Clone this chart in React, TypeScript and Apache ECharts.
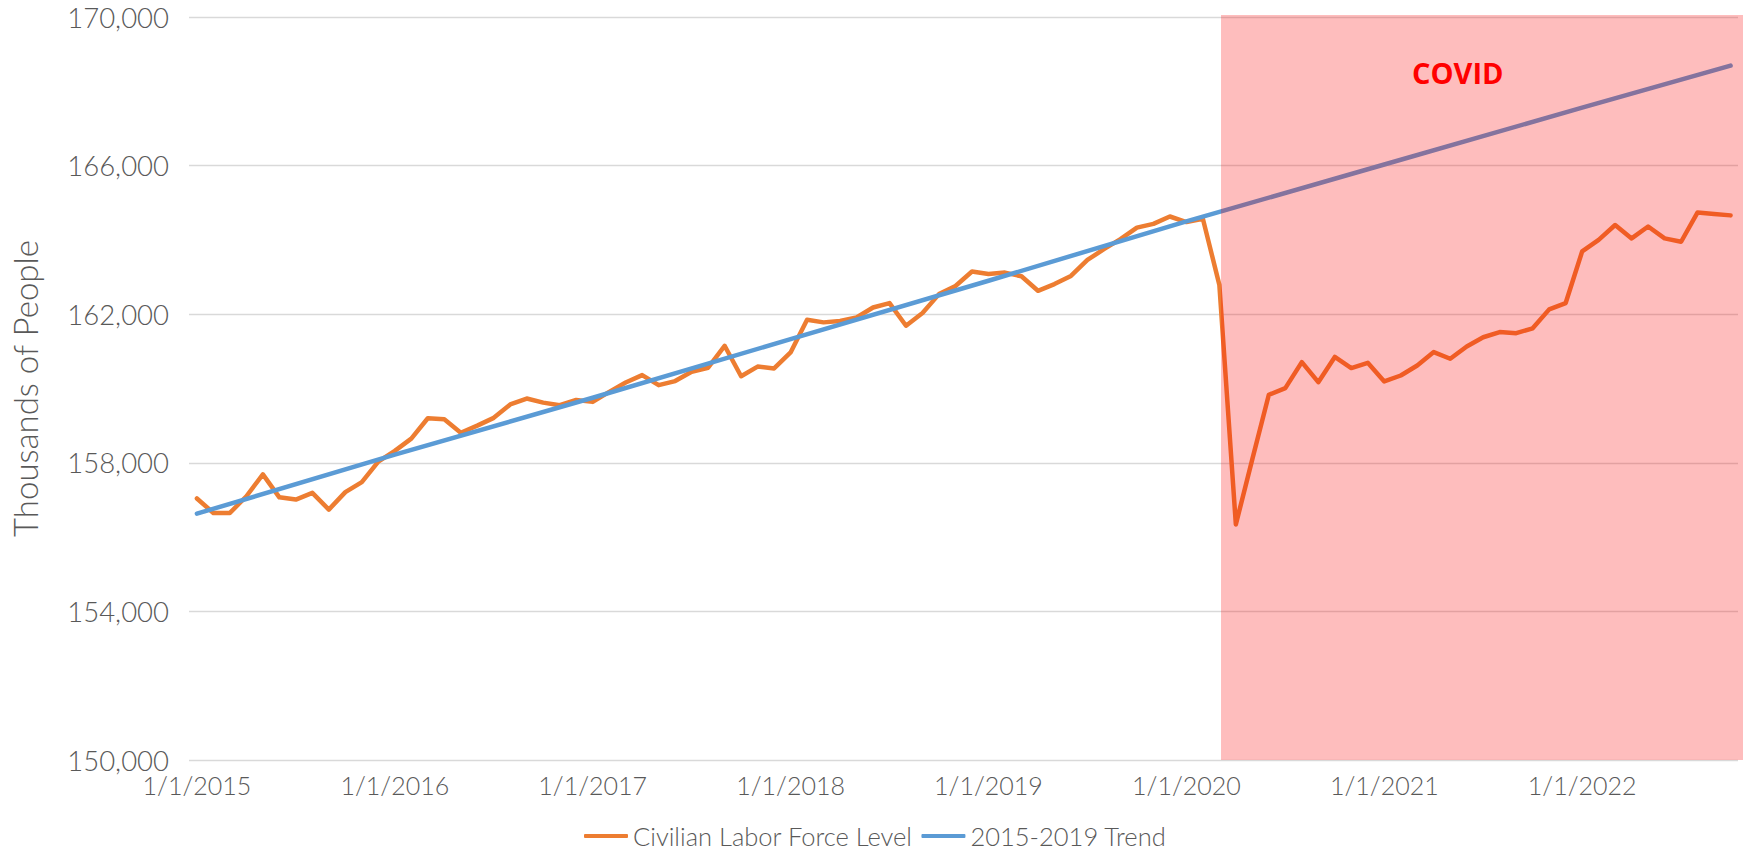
import React, { useEffect, useRef } from "react";
import * as echarts from "echarts";

// Civilian Labor Force Level (thousands), monthly
const years = [2015, 2016, 2017, 2018, 2019, 2020, 2021, 2022];
const laborForce2015 = [157040, 156650, 156650, 157100, 157690, 157070, 157010, 157190, 156740, 157210, 157480, 158030];
const laborForce2016 = [158320, 158650, 159200, 159170, 158810, 159000, 159210, 159570, 159730, 159620, 159550, 159690];
const laborForce2017 = [159640, 159910, 160160, 160360, 160090, 160200, 160450, 160560, 161150, 160330, 160590, 160540];
const laborForce2018 = [160970, 161850, 161780, 161820, 161910, 162180, 162300, 161690, 162030, 162540, 162760, 163150];
const laborForce2019 = [163080, 163120, 163020, 162630, 162810, 163030, 163460, 163750, 164020, 164330, 164430, 164630];
const laborForce2020 = [164480, 164570, 162790, 156340, 158100, 159830, 160010, 160710, 160170, 160850, 160550, 160690];
const laborForce2021 = [160190, 160350, 160620, 160980, 160800, 161130, 161380, 161520, 161490, 161620, 162130, 162300];
const laborForce2022 = [163690, 164000, 164400, 164040, 164360, 164040, 163950, 164740, 164700, 164660];
const laborForceByYear = [
  laborForce2015, laborForce2016, laborForce2017, laborForce2018,
  laborForce2019, laborForce2020, laborForce2021, laborForce2022,
];

// 2015-2019 trend line (thousands), read at each January and at the last month ([year, month])
const trendMonths: [number, number][] = [[2015, 1], [2016, 1], [2017, 1], [2018, 1], [2019, 1], [2020, 1], [2021, 1], [2022, 1], [2022, 10]];
const trendValues = [156630, 158220, 159750, 161330, 162900, 164500, 166030, 167560, 168690];

// Axis ticks: labelled years (shown as 1/1/YYYY)
const tickYears = [2015, 2016, 2017, 2018, 2019, 2020, 2021, 2022];
const yMin = 150000;
const yMax = 170000;
const yInterval = 4000;
// axis extent in months from Jan 2015
const axisStartMonth = -0.48;
const axisEndMonth = 93.45;
const covidStartMonth = 62.1; // early March 2020

const seriesNames = ["Civilian Labor Force Level", "2015-2019 Trend"];
const covidLabel = "COVID";

const monthIndex = (y: number, m: number) => (y - years[0]) * 12 + (m - 1);

export default function App() {
  const ref = useRef<HTMLDivElement>(null);

  useEffect(() => {
    document.body.style.margin = "0";
    const chart = echarts.init(ref.current!, null, { renderer: "svg" });

    const laborData: [number, number][] = [];
    laborForceByYear.forEach((vals, yi) => {
      vals.forEach((v, mi) => {
        laborData.push([monthIndex(years[yi], mi + 1), v]);
      });
    });
    const trendData = trendMonths.map(([y, m], i) => [monthIndex(y, m), trendValues[i]]);

    const labelFont = {
      fontFamily: "Lato",
      fontWeight: 300 as any,
      fontSize: 25,
      color: "#595959",
    };

    chart.setOption({
      animation: false,
      backgroundColor: "#ffffff",
      grid: { left: 175, right: 5, top: 17, bottom: 91, containLabel: false },
      legend: {
        data: seriesNames,
        left: 579,
        top: 818,
        icon: "roundRect",
        itemWidth: 44,
        itemHeight: 4,
        itemGap: 9,
        textStyle: { fontFamily: "Lato", fontWeight: 300, fontSize: 25.5, color: "#595959" },
      },
      xAxis: {
        type: "value",
        min: axisStartMonth,
        max: axisEndMonth,
        axisLine: { show: false },
        axisTick: { show: false },
        splitLine: { show: false },
        axisLabel: {
          ...labelFont,
          margin: 12,
          customValues: tickYears.map((y) => monthIndex(y, 1)),
          formatter: (val: number) => `1/1/${years[0] + Math.round(val / 12)}`,
        },
      },
      yAxis: {
        type: "value",
        min: yMin,
        max: yMax,
        interval: yInterval,
        name: "Thousands of People",
        nameLocation: "middle",
        nameRotate: 90,
        nameGap: 148,
        nameTextStyle: { fontFamily: "Lato", fontWeight: 300, fontSize: 33, color: "#595959" },
        axisLine: { show: false },
        axisTick: { show: false },
        splitLine: { lineStyle: { color: "#D9D9D9", width: 1.3 } },
        axisLabel: {
          ...labelFont,
          fontSize: 27.5,
          margin: 20,
          formatter: (v: number) => v.toLocaleString("en-US"),
        },
      },
      series: [
        {
          name: seriesNames[0],
          type: "line",
          data: laborData,
          showSymbol: false,
          z: 2,
          itemStyle: { color: "#ED7D31" },
          lineStyle: { color: "#ED7D31", width: 4.5, cap: "round", join: "round" },
        },
        {
          name: seriesNames[1],
          type: "line",
          data: trendData,
          showSymbol: false,
          z: 3,
          itemStyle: { color: "#5B9BD5" },
          lineStyle: { color: "#5B9BD5", width: 4.5, cap: "round", join: "round" },
        },
        {
          name: covidLabel,
          type: "custom",
          z: 10,
          silent: true,
          clip: false,
          data: [[covidStartMonth, yMax, axisEndMonth, yMin]],
          encode: { x: [0, 2], y: [1, 3] },
          renderItem: (params: any, api: any) => {
            const p0 = api.coord([api.value(0), api.value(1)]);
            const p1 = api.coord([api.value(2), api.value(3)]);
            return {
              type: "rect",
              shape: { x: p0[0], y: p0[1] - 2, width: p1[0] - p0[0] + 5, height: p1[1] - p0[1] + 2 },
              style: { fill: "rgba(250,0,0,0.26)" },
            };
          },
        },
      ],
      graphic: [
        {
          type: "text",
          left: 1412,
          top: 58,
          z: 100,
          style: {
            text: covidLabel,
            fill: "#FF0000",
            font: "bold 29px 'Open Sans', 'Noto Sans', sans-serif",
          },
        },
      ],
    });

    return () => chart.dispose();
  }, []);

  return <div ref={ref} style={{ width: 1743, height: 851 }} />;
}
